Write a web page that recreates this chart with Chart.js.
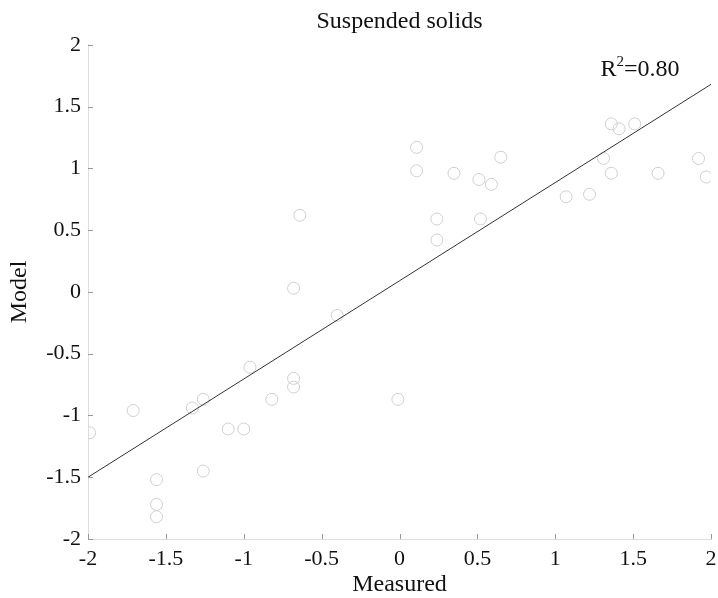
<!DOCTYPE html>
<html><head><meta charset="utf-8">
<script src="https://cdn.jsdelivr.net/npm/chart.js@4"></script>
<style>html,body{margin:0;padding:0;background:#fff}#w{width:718px;height:598px}</style>
</head><body><div id="w"><canvas id="c"></canvas></div>
<script>
const measured = [-0.64,-0.68,0.11,0.11,0.65,0.35,0.51,0.59,0.24,0.52,0.24,1.07,1.22,1.36,1.41,1.51,1.31,1.36,1.66,1.92,1.97,
  -0.40,-0.96,-0.68,-0.68,-0.82,-1.26,-1.33,-1.71,-1.99,-1.10,-1.00,-1.26,-1.56,-1.56,-1.56,-0.01];
const model = [0.62,0.03,1.17,0.98,1.09,0.96,0.91,0.87,0.59,0.59,0.42,0.77,0.79,1.36,1.32,1.36,1.08,0.96,0.96,1.08,0.93,
  -0.19,-0.61,-0.70,-0.77,-0.87,-0.87,-0.94,-0.96,-1.14,-1.11,-1.11,-1.45,-1.52,-1.72,-1.82,-0.87];
const fitX = [-2, 2];
const fitY = [-1.50, 1.68];
const tickValues = [-2,-1.5,-1,-0.5,0,0.5,1,1.5,2];
const titleText = 'Suspended solids';
const r2Text = '0.80';

const serif = '"Liberation Serif","DejaVu Serif",serif';
const points = measured.map((x,i)=>({x, y: model[i]}));
const fitLine = fitX.map((x,i)=>({x, y: fitY[i]}));

const inwardTicks = {
  id:'inwardTicks',
  afterDatasetsDraw(chart){
    const {ctx, chartArea:a, scales:{x, y}} = chart;
    ctx.save();
    ctx.strokeStyle = '#999'; ctx.lineWidth = 1;
    ctx.beginPath();
    tickValues.forEach(v=>{
      const px = Math.round(x.getPixelForValue(v))+0.5;
      ctx.moveTo(px, a.bottom); ctx.lineTo(px, a.bottom-5);
      const py = Math.round(y.getPixelForValue(v))+0.5;
      ctx.moveTo(a.left, py); ctx.lineTo(a.left+5, py);
    });
    ctx.stroke();
    const lx = x.getPixelForValue(1.29), ly = y.getPixelForValue(1.745);
    ctx.fillStyle = '#111';
    ctx.textBaseline = 'alphabetic';
    ctx.font = '24px '+serif;
    ctx.fillText('R', lx, ly);
    const w1 = ctx.measureText('R').width;
    ctx.font = '15px '+serif;
    ctx.fillText('2', lx+w1, ly-10);
    const w2 = ctx.measureText('2').width;
    ctx.font = '24px '+serif;
    ctx.fillText('='+r2Text, lx+w1+w2, ly);
    ctx.restore();
  }
};

new Chart(document.getElementById('c'), {
  type:'scatter',
  data:{datasets:[
    {type:'line', data: fitLine, borderColor:'#333', borderWidth:1, pointRadius:0, fill:false, order:0},
    {data: points, pointStyle:'circle', pointRadius:6, pointBorderWidth:1, pointBorderColor:'#cfcfcf', pointBackgroundColor:'rgba(0,0,0,0)', order:1}
  ]},
  options:{
    responsive:true, maintainAspectRatio:false, animation:false,
    layout:{padding:{left:0,right:6,top:0,bottom:0}},
    plugins:{
      legend:{display:false}, tooltip:{enabled:false},
      title:{display:true, fullSize:false, text:titleText, color:'#111', font:{family:serif, size:24, weight:'normal', lineHeight:1.2}, padding:{top:7,bottom:9}}
    },
    scales:{
      x:{type:'linear', min:-2, max:2,
        afterBuildTicks(s){ s.ticks = tickValues.map(v=>({value:v})); },
        afterFit(s){ s.paddingRight = 0; s.paddingLeft = 0; s.height = 59; },
        grid:{drawOnChartArea:false, drawTicks:false, color:'#ddd'},
        border:{color:'#ddd'},
        ticks:{color:'#111', padding:8, font:{family:serif, size:22, lineHeight:1.1}, maxRotation:0, autoSkip:false, callback:v=>String(v)},
        title:{display:true, text:'Measured', color:'#111', font:{family:serif, size:24, lineHeight:1.0}, padding:{top:0,bottom:1}}
      },
      y:{type:'linear', min:-2, max:2,
        afterBuildTicks(s){ s.ticks = tickValues.map(v=>({value:v})); },
        afterFit(s){ s.width = 88; },
        grid:{drawOnChartArea:false, drawTicks:false, color:'#ddd'},
        border:{color:'#ddd'},
        ticks:{color:'#111', padding:7, font:{family:serif, size:22}, autoSkip:false, callback:v=>String(v)},
        title:{display:true, text:'Model', color:'#111', font:{family:serif, size:24}, padding:{top:5,bottom:4}}
      }
    }
  },
  plugins:[inwardTicks]
});
</script></body></html>
